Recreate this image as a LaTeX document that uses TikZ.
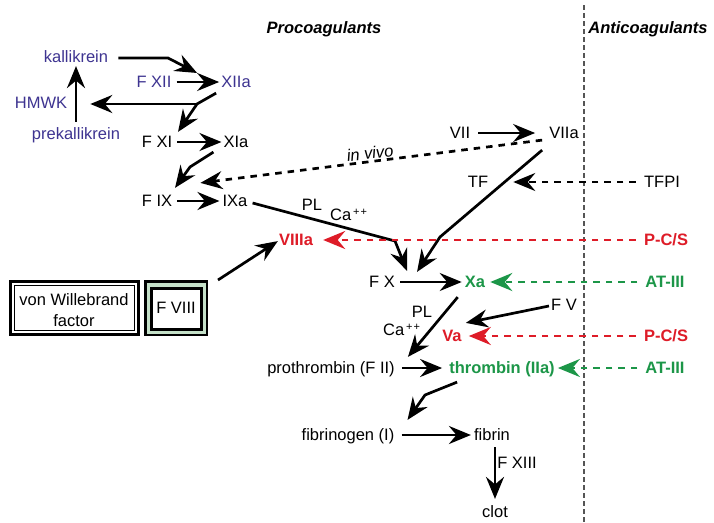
\documentclass[tikz,border=0pt]{standalone}
\usepackage{fontspec}
\setmainfont{Liberation Sans}
\usetikzlibrary{arrows.meta}
\definecolor{kblue}{RGB}{62,52,145}
\definecolor{kred}{RGB}{222,28,40}
\definecolor{kgreen}{RGB}{28,150,72}
\definecolor{kgray}{RGB}{85,85,85}
\definecolor{boxgreen}{RGB}{196,224,200}
\newcommand{\capp}{Ca\raisebox{5.5pt}{\fontsize{11}{11}\selectfont\,+\kern1pt+}}
\tikzset{
  lbl/.style={inner sep=0pt, font=\fontsize{16.5}{19}\selectfont, text height=11.8pt, text depth=0pt},
  blbl/.style={lbl, text=kblue},
  rlbl/.style={lbl, text=kred, font=\fontsize{16.5}{19}\selectfont\bfseries},
  glbl/.style={lbl, text=kgreen, font=\fontsize{16.5}{19}\selectfont\bfseries},
  head/.style={lbl, font=\fontsize{16.5}{19}\selectfont\bfseries\itshape},
  arr/.style={line width=2.7pt, -{Stealth[length=22pt,width=18pt,inset=7.5pt]}},
  darr/.style={arr, dash pattern=on 6.5pt off 6pt},
  divider/.style={line width=1.2pt, kgray, dash pattern=on 5pt off 3pt}
}
\begin{document}
\begin{tikzpicture}[x=1pt,y=-1pt]
\useasboundingbox (0,0) rectangle (714,522);
\fill[white] (0,0) rectangle (714,522);
\draw[divider] (584,5) -- (584,522);

% headings
\node[head] (proco) at (324,28) {Procoagulants};
\node[head] (antico) at (648,28) {Anticoagulants};

% contact system
\node[blbl] (kal) at (76,57) {kallikrein};
\node[blbl] (fxii) at (154,82) {F XII};
\node[blbl] (xiia) at (236,82) {XIIa};
\node[blbl] (hmwk) at (41,103) {HMWK};
\node[blbl] (prek) at (76,134) {prekallikrein};
\node[lbl] (fxi) at (157,142) {F XI};
\node[lbl] (xia) at (236,142) {XIa};
\node[lbl] (fix) at (157,201) {F IX};
\node[lbl] (ixa) at (235,201) {IXa};

% extrinsic
\node[lbl] (vii) at (460,133) {VII};
\node[lbl] (viia) at (564,133) {VIIa};
\node[lbl] (tf) at (478,182) {TF};
\node[lbl] (tfpi) at (662,182) {TFPI};
\node[lbl, font=\fontsize{16.5}{19}\selectfont\itshape, rotate=7] (invivo) at (370,153) {in vivo};
\node[lbl] (pl1) at (312,205) {PL};
\node[lbl, anchor=west] (ca1) at (330,215) {\capp};

\node[rlbl] (viiia) at (296,240) {VIIIa};
\node[rlbl] (pcs1) at (666,240) {P-C/S};

% boxes
\draw[line width=3pt] (10.5,281.5) rectangle (138.5,334.5);
\draw[line width=1.5pt] (14.5,285.5) rectangle (134.5,330.5);
\node[inner sep=0pt, align=center, font=\fontsize{16.5}{21}\selectfont] (vwf) at (74,310) {von Willebrand\\factor};
\draw[line width=2.5pt, fill=boxgreen] (145.25,281.25) rectangle (206.75,334.75);
\draw[line width=3pt, fill=white] (151.5,288.5) rectangle (201.5,329);
\node[lbl] (fviii) at (176,308) {F VIII};
\coordinate (fviiibox) at (208,280);

\node[lbl] (fx) at (382,282) {F X};
\node[glbl] (xa) at (475,282) {Xa};
\node[glbl] (atiii1) at (665,282) {AT-III};
\node[lbl] (fv) at (564,305) {F V};
\node[lbl] (pl2) at (422,312) {PL};
\node[lbl, anchor=west] (ca2) at (383,330) {\capp};
\node[rlbl] (va) at (452,336) {Va};
\node[rlbl] (pcs2) at (666,336) {P-C/S};
\node[lbl] (proth) at (331,368) {prothrombin (F II)};
\node[glbl] (thromb) at (502,368) {thrombin (IIa)};
\node[glbl] (atiii2) at (665,368) {AT-III};
\node[lbl] (fibgen) at (348,435) {fibrinogen (I)};
\node[lbl] (fibrin) at (492,435) {fibrin};
\node[lbl] (fxiii) at (517,463) {F XIII};
\node[lbl] (clot) at (495,512) {clot};

% bend points
\coordinate (kb) at (168,58);
\coordinate (hb) at (197,104);
\coordinate (xb) at (190,167);
\coordinate (vb) at (440,237);
\coordinate (ib) at (395,241);
\coordinate (tb) at (425,395);

% connectors
\draw[arr] ([shift={(10pt,-1pt)}]kal.east) -- (kb) -- ([shift={(-24pt,9pt)}]xiia.west);
\draw[arr] ([xshift=5pt]fxii.east) -- ([xshift=-2pt]xiia.west);
\draw[arr] ([shift={(-5pt,-5pt)}]xiia.south west) -- (hb) -- ([shift={(21pt,4pt)}]fxi.north);
\draw[arr] (hb) -- ([shift={(23pt,-1pt)}]hmwk.east);
\draw[arr] ([yshift=6pt]prek.north) -- ([yshift=-3pt]kal.south);
\draw[arr] ([xshift=5pt]fxi.east) -- ([xshift=-2pt]xia.west);
\draw[arr] ([shift={(-10pt,-4pt)}]xia.south west) -- (xb) -- ([shift={(18pt,7pt)}]fix.north);
\draw[arr] ([xshift=5pt]fix.east) -- ([xshift=-3pt]ixa.west);
\draw[arr] ([xshift=8pt]vii.east) -- ([xshift=-14pt]viia.west);
\draw[darr] ([shift={(-7pt,-1pt)}]viia.south west) -- ([shift={(-22pt,12pt)}]ixa.north west);
\draw[arr] ([shift={(-7pt,-11pt)}]viia.south west) -- (vb) -- ([shift={(22pt,4pt)}]fx.north east);
\draw[arr] ([shift={(5pt,-2pt)}]ixa.east) -- (ib) -- ([shift={(12pt,5pt)}]fx.north east);
\draw[darr] ([xshift=-8pt]tfpi.west) -- ([xshift=25pt]tf.east);
\draw[darr, kred] ([xshift=-8pt]pcs1.west) -- ([xshift=10pt]viiia.east);
\draw[arr] ([xshift=10pt]fviiibox) -- ([shift={(-1pt,5pt)}]viiia.south west);
\draw[arr] ([xshift=5pt]fx.east) -- ([xshift=-3pt]xa.west);
\draw[darr, kgreen] ([xshift=-8pt]atiii1.west) -- ([xshift=5pt]xa.east);
\draw[arr] ([shift={(-2pt,-1pt)}]fv.west) -- ([shift={(4pt,7pt)}]va.north east);
\draw[arr] ([shift={(-7pt,-9pt)}]xa.south west) -- ([shift={(13pt,5pt)}]proth.north east);
\draw[darr, kred] ([xshift=-8pt]pcs2.west) -- ([xshift=7pt]va.east);
\draw[arr] ([xshift=7pt]proth.east) -- ([xshift=-7pt]thromb.west);
\draw[darr, kgreen] ([xshift=-8pt]atiii2.west) -- ([xshift=3pt]thromb.east);
\draw[arr] ([shift={(8pt,-8pt)}]thromb.south west) -- (tb) -- ([shift={(13pt,9pt)}]fibgen.north east);
\draw[arr] ([xshift=7pt]fibgen.east) -- ([xshift=-3pt]fibrin.west);
\draw[arr] ([shift={(3pt,-6pt)}]fibrin.south) -- ([yshift=7pt]clot.north);
\end{tikzpicture}
\end{document}
